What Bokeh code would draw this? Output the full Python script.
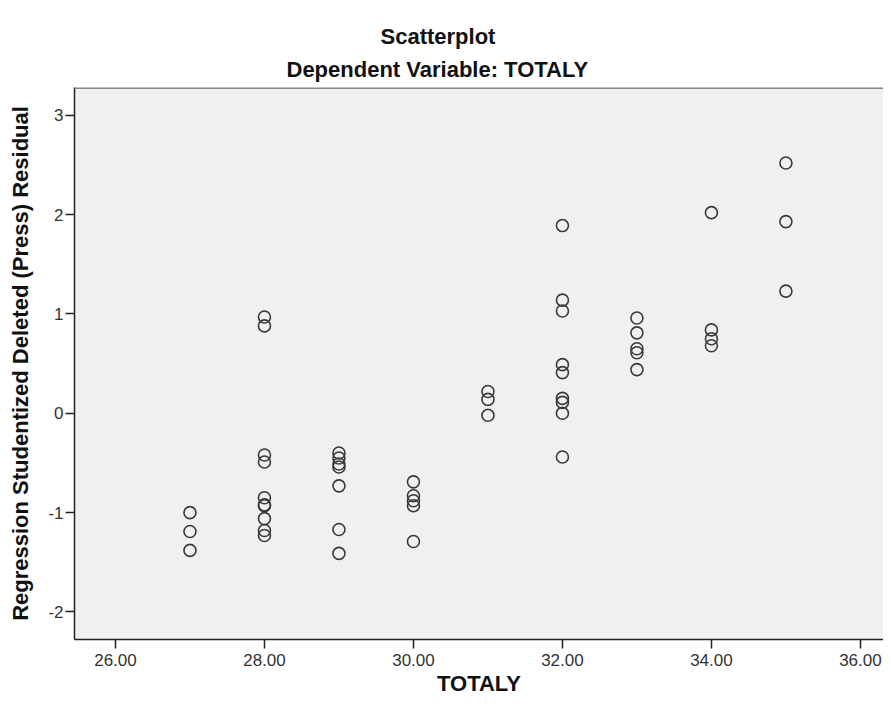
from bokeh.plotting import figure
from bokeh.models import Range1d, FixedTicker, NumeralTickFormatter, Title, Span
from bokeh.embed import file_html
from bokeh.resources import INLINE

# TOTALY (x) and studentized deleted residual (y)
totaly = [27, 27, 27,
          28, 28, 28, 28, 28, 28, 28, 28, 28, 28,
          29, 29, 29, 29, 29, 29, 29,
          30, 30, 30, 30, 30,
          31, 31, 31,
          32, 32, 32, 32, 32, 32, 32, 32, 32,
          33, 33, 33, 33, 33,
          34, 34, 34, 34,
          35, 35, 35]
residual = [-1.00, -1.19, -1.38,
            0.97, 0.88, -0.42, -0.49, -0.85, -0.92, -0.93, -1.06, -1.18, -1.23,
            -0.40, -0.45, -0.51, -0.54, -0.73, -1.17, -1.41,
            -0.69, -0.83, -0.88, -0.93, -1.29,
            0.22, 0.14, -0.02,
            1.89, 1.14, 1.03, 0.49, 0.41, 0.15, 0.11, 0.00, -0.44,
            0.96, 0.81, 0.65, 0.61, 0.44,
            2.02, 0.84, 0.75, 0.68,
            2.52, 1.93, 1.23]
x_ticks = [26, 28, 30, 32, 34, 36]
y_ticks = [-2, -1, 0, 1, 2, 3]

FONT = "Liberation Sans"

p = figure(width=883, height=698, output_backend="svg", toolbar_location=None,
           x_range=Range1d(25.45, 36.31), y_range=Range1d(-2.277, 3.28),
           title="Scatterplot")
p.min_border_left = 74
p.min_border_right = 0
p.min_border_top = 87
p.min_border_bottom = 0

p.title.align = "left"
p.title.offset = 306
p.title.text_font = FONT
p.title.text_font_size = "22px"
p.title.text_font_style = "bold"
p.title.text_color = "#111111"
p.title.standoff = 1

t2 = Title(text="Dependent Variable: TOTALY", align="left", offset=212, text_font=FONT,
           text_font_size="22px", text_font_style="bold", text_color="#111111",
           standoff=11)
p.add_layout(t2, "above")

p.background_fill_color = "#f0f0f0"
p.border_fill_color = "white"
p.outline_line_color = None
p.xgrid.visible = False
p.ygrid.visible = False

top = Span(location=3.28, dimension="width", line_color="#8a8a8a", line_width=3)
p.add_layout(top)

p.scatter(totaly, residual, marker="circle", size=12, fill_color=None,
          line_color="#3a3a3a", line_width=1.6)

p.xaxis.ticker = FixedTicker(ticks=x_ticks)
p.yaxis.ticker = FixedTicker(ticks=y_ticks)
p.xaxis.formatter = NumeralTickFormatter(format="0.00")
p.yaxis.formatter = NumeralTickFormatter(format="0")
for ax in (p.xaxis[0], p.yaxis[0]):
    ax.axis_line_color = "#222222"
    ax.axis_line_width = 1.5
    ax.major_tick_line_color = "#222222"
    ax.major_tick_line_width = 1.5
    ax.major_tick_in = 0
    ax.major_tick_out = 9
    ax.minor_tick_line_color = None
    ax.major_label_text_font = FONT
    ax.major_label_text_font_size = "17px"
    ax.major_label_text_color = "#333333"
    ax.axis_label_text_font = FONT
    ax.axis_label_text_font_size = "22px"
    ax.axis_label_text_font_style = "bold"
    ax.axis_label_text_color = "#111111"

p.xaxis.axis_label = "TOTALY"
p.yaxis.axis_label = "Regression Studentized Deleted (Press) Residual"
p.xaxis.major_label_standoff = 5
p.xaxis.axis_label_standoff = 2
p.yaxis.major_label_standoff = 2
p.yaxis.axis_label_standoff = 12

open("out.html", "w").write(file_html(p, INLINE))
